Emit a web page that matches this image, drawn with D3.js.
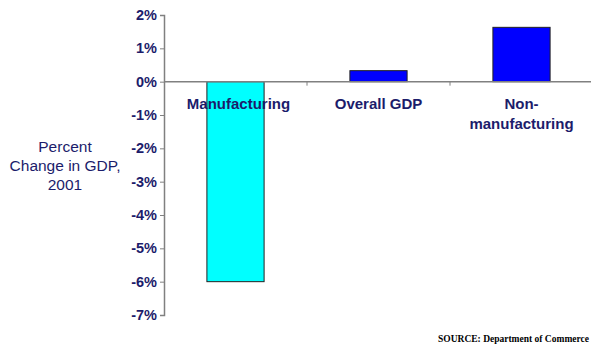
<!DOCTYPE html>
<html><head><meta charset="utf-8">
<script src="https://cdn.jsdelivr.net/npm/d3@7"></script>
<style>body{margin:0;background:#fff}svg{display:block}</style>
</head><body><svg id="c" width="591" height="347"></svg>
<script>
const categories = ["Manufacturing", "Overall GDP", "Non-manufacturing"];
const categoryLines = [["Manufacturing"], ["Overall GDP"], ["Non-", "manufacturing"]];
const values = [-6.0, 0.33, 1.63];
const barColors = ["#00FFFF", "#0000FF", "#0000FF"];
const yTicks = [2, 1, 0, -1, -2, -3, -4, -5, -6, -7];
const yTitle = ["Percent", "Change in GDP,", "2001"];
const source = "SOURCE:  Department of Commerce";

const svg = d3.select("#c");
const textColor = "#1c1c6b";
const y = d3.scaleLinear().domain([-7, 2]).range([315, 15]);
const x = d3.scaleBand().domain(categories).range([164, 593]).paddingInner(0.6).paddingOuter(0.3);

// bars
svg.selectAll("rect.bar").data(values).join("rect")
  .attr("x", (d, i) => x(categories[i]))
  .attr("width", x.bandwidth())
  .attr("y", d => y(Math.max(0, d)))
  .attr("height", d => Math.abs(y(d) - y(0)))
  .attr("fill", (d, i) => barColors[i])
  .attr("stroke", "#222")
  .attr("stroke-width", 1);

// y axis
const yAxis = d3.axisLeft(y).tickValues(yTicks).tickSize(4).tickFormat(d => d + "%");
const ga = svg.append("g").attr("transform", "translate(164,0)").call(yAxis);
ga.select(".domain").attr("stroke", "#808080").attr("stroke-width", 1.5);
ga.selectAll(".tick line").attr("stroke", "#808080");
ga.selectAll(".tick text").attr("fill", textColor).attr("font-family", "Liberation Sans, Arial, sans-serif")
  .attr("font-size", 14.5).attr("font-weight", "bold").attr("x", -7);

// zero line with category ticks
const xb = d3.scaleLinear().domain([0, 3]).range([164, 164 + 3 * 143]);
svg.append("line").attr("x1", 164).attr("x2", 591).attr("y1", y(0)).attr("y2", y(0))
  .attr("stroke", "#808080").attr("stroke-width", 1.5);
svg.selectAll("line.ct").data([1, 2]).join("line")
  .attr("x1", d => xb(d)).attr("x2", d => xb(d))
  .attr("y1", y(0)).attr("y2", y(0) + 4).attr("stroke", "#808080");

// category labels
categoryLines.forEach((lines, i) => {
  const t = svg.append("text").attr("text-anchor", "middle")
    .attr("font-family", "Liberation Sans, Arial, sans-serif").attr("font-size", 15)
    .attr("font-weight", "bold").attr("fill", textColor);
  lines.forEach((l, j) => t.append("tspan")
    .attr("x", x(categories[i]) + x.bandwidth() / 2 + (i === 0 ? 3 : 0))
    .attr("y", 109 + j * 20).text(l));
});

// y title
const tt = svg.append("text").attr("text-anchor", "middle")
  .attr("font-family", "Liberation Sans, Arial, sans-serif").attr("font-size", 15.5)
  .attr("fill", textColor);
yTitle.forEach((l, j) => tt.append("tspan").attr("x", 65).attr("y", 152 + j * 19).text(l));

// source
svg.append("text").attr("x", 589).attr("y", 342).attr("text-anchor", "end")
  .attr("font-family", "Liberation Serif, Times New Roman, serif").attr("font-size", 9.5)
  .attr("font-weight", "bold").attr("fill", "#000").text(source);
</script></body></html>
